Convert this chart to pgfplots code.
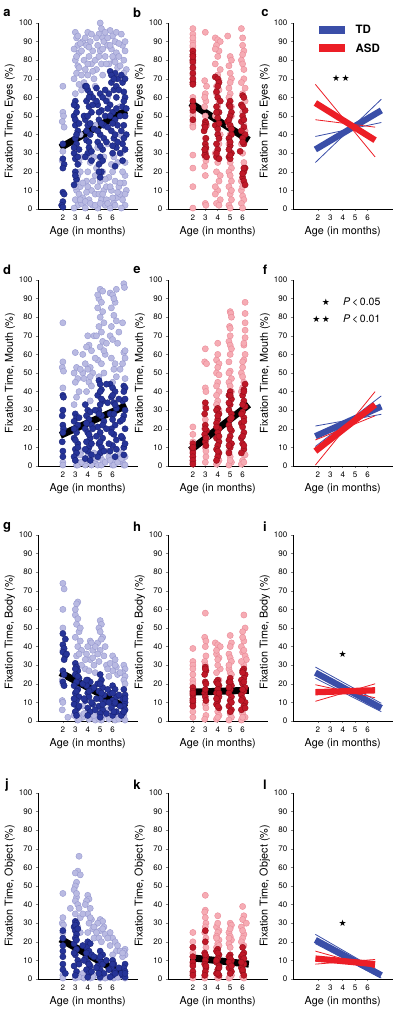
\documentclass[border=0pt]{standalone}
\usepackage{pgfplots}
\pgfplotsset{compat=1.18}
\usepackage{fontspec}
\setmainfont{TeX Gyre Heros}
\newfontfamily\symfont{DejaVu Sans}
\definecolor{tdLf}{RGB}{185,186,226}
\definecolor{tdLe}{RGB}{150,152,208}
\definecolor{tdDf}{RGB}{38,52,152}
\definecolor{tdDe}{RGB}{25,35,118}
\definecolor{asLf}{RGB}{246,172,180}
\definecolor{asLe}{RGB}{234,136,150}
\definecolor{asDf}{RGB}{192,24,40}
\definecolor{asDe}{RGB}{148,14,26}
\definecolor{tdB}{RGB}{58,78,168}
\definecolor{asR}{RGB}{236,30,38}
\pgfplotsset{
  panel/.style={
    scale only axis, width=99.5pt, height=186pt, anchor=south west,
    xmin=0, xmax=8, ymin=0, ymax=100,
    axis lines=left, axis line style={-, line width=0.6pt},
    xtick={2,3,4,5,6}, ytick={0,10,...,100},
    tick align=outside, major tick length=2.2pt, tick style={line width=0.6pt},
    tick label style={font=\fontsize{8}{9}\selectfont},
    label style={font=\fontsize{10.8}{12}\selectfont},
    xlabel={Age (in months)},
    xlabel style={yshift=1pt},
    ylabel style={yshift=-3pt},
    clip=false,
    /pgf/number format/assume math mode=true,
  },
  row1/.style={ylabel style={xshift=-5pt}},
  row3/.style={ylabel style={xshift=-4pt}},
  tdl/.style={only marks, mark=*, mark size=3.1pt, mark options={fill=tdLf, draw=tdLe, line width=0.4pt}},
  tdd/.style={only marks, mark=*, mark size=3.1pt, mark options={fill=tdDf, draw=tdDe, line width=0.4pt}},
  asl/.style={only marks, mark=*, mark size=3.1pt, mark options={fill=asLf, draw=asLe, line width=0.4pt}},
  asd/.style={only marks, mark=*, mark size=3.1pt, mark options={fill=asDf, draw=asDe, line width=0.4pt}},
  regl/.style={black, line width=7pt, no marks},
  tdthick/.style={tdB, line width=6.3pt, no marks},
  tdthin/.style={tdB, line width=0.8pt, no marks},
  asthick/.style={asR, line width=6.3pt, no marks},
  asthin/.style={asR, line width=0.8pt, no marks},
}
\newcommand{\lab}[3]{\node[font=\bfseries\fontsize{13}{14}\selectfont] at (#1pt,#2pt) {#3};}
\newcommand{\stars}[1]{{\symfont\fontsize{9}{9}\selectfont #1}}
\begin{document}
\begin{tikzpicture}
% ---------------- a
\begin{axis}[panel, row1, at={(38pt,-209pt)}, ylabel={Fixation Time, Eyes (\%)}]
\addplot[tdl] coordinates {(2.0,66)(2.0,52)(2.05,50)(1.95,47)(2.1,44)(2.0,31)(1.95,26)
(3.0,95)(3.1,92)(3.2,88)(2.9,86)(3.3,84)(3.0,80)(3.2,77)(3.1,73)(2.9,70)(3.3,67)(3.0,62)(3.1,10)(3.0,5)(3.2,2)(2.9,0.5)(3.3,8)(3.1,15)(3.4,20)(3.5,3)(3.6,90)(3.5,85)(3.7,80)(3.4,12)(3.6,6)
(4.0,95)(4.2,90)(3.9,88)(4.4,85)(4.1,82)(4.3,78)(3.8,75)(4.0,72)(4.5,70)(4.2,25)(4.0,20)(3.9,15)(4.3,10)(4.1,5)(4.4,2)(3.8,0.5)(4.6,18)(4.5,28)(4.6,8)(3.9,9)
(5.0,100)(5.1,97)(4.9,94)(5.2,92)(5.3,90)(4.8,88)(5.0,85)(5.4,82)(5.1,78)(4.7,75)(5.2,72)(5.0,15)(5.3,10)(4.9,8)(5.1,5)(5.4,2)(4.8,0.5)(5.2,20)(5.5,12)(5.0,25)(5.6,88)(5.5,5)
(5.8,96)(6.0,93)(6.2,90)(5.9,86)(6.3,84)(6.1,80)(5.7,78)(6.4,76)(6.0,20)(6.2,15)(5.9,10)(6.3,6)(6.1,3)(5.8,0.5)(6.5,12)(6.4,25)(6.5,82)(5.7,17)
(6.8,88)(7.0,85)(6.9,80)(7.1,75)(6.7,70)(7.0,18)(6.9,14)(7.1,10)(6.8,5)(7.0,2)(6.7,0.5)(7.0,25)(6.6,8)
(3.4,40)(4.6,45)(5.6,60)(6.6,55)(4.8,33)(3.6,28)(5.6,35)(6.6,40)(3.5,64)(4.6,66)
(3.1,82)(3.3,76)(3.5,72)(3.2,93)(3.4,89)(3.8,92)(4.1,87)(4.3,94)(4.6,80)(4.4,74)(4.7,92)(4.9,82)(5.2,86)(5.4,95)(5.6,92)(5.5,78)(5.8,88)(6.0,82)(6.2,79)(6.3,95)(6.5,89)(6.7,94)(6.9,73)(7.0,90)(6.6,77)(4.0,78)(3.7,68)
(3.0,12)(3.2,18)(3.4,5)(3.6,14)(3.8,4)(4.0,12)(4.2,3)(4.4,15)(4.6,2)(4.8,12)(5.0,3)(5.2,8)(5.4,16)(5.6,3)(5.8,12)(6.0,6)(6.2,2)(6.4,9)(6.6,14)(6.8,20)(7.0,8)(3.3,25)(4.1,28)(5.3,28)(6.1,28)(6.7,30)(5.9,24)(4.7,22)};
\addplot[tdd] coordinates {(2.0,35)(2.0,27)(2.1,24)(2.0,22)(2.0,9)(2.1,8)(2.0,4)(1.9,2)(2.0,1)
(3.0,58)(3.1,55)(2.9,50)(3.0,45)(3.2,42)(3.0,38)(3.1,35)(2.9,30)(3.0,27)(3.2,24)(3.0,20)(3.1,16)(2.9,13)(3.3,32)
(3.8,66)(4.0,64)(4.2,62)(3.9,58)(4.1,55)(4.3,52)(3.8,48)(4.0,45)(4.2,40)(3.9,37)(4.1,33)(4.0,30)(4.3,26)(3.7,50)(4.4,60)
(4.7,65)(5.0,62)(5.2,60)(4.8,56)(5.1,53)(4.9,48)(5.3,45)(5.0,40)(4.8,36)(5.2,32)(5.0,28)(4.9,24)(5.1,20)(5.0,17)(5.4,50)(5.5,58)
(5.8,74)(6.0,72)(6.2,73)(6.4,70)(5.9,68)(6.1,64)(6.3,60)(5.8,56)(6.0,52)(6.2,48)(6.4,45)(5.9,42)(6.1,38)(6.3,33)(6.0,30)(6.2,23)(5.7,62)
(6.7,72)(6.9,63)(7.0,60)(6.8,55)(7.0,50)(6.9,45)(7.1,40)(6.8,35)(7.0,32)(6.9,58)
(3.0,48)(3.1,40)(2.9,33)(3.2,28)(3.0,18)(3.1,52)(2.9,56)(3.3,46)(3.9,66)(4.1,60)(4.0,50)(4.2,46)(3.9,42)(4.1,36)(4.3,31)(3.8,28)(4.4,56)(4.5,43)(4.7,58)(4.9,52)(5.1,46)(4.8,42)(5.0,34)(5.2,26)(4.9,20)(5.3,38)(5.4,64)(5.6,54)(5.6,44)(5.5,36)(5.9,72)(6.1,70)(6.3,66)(5.8,50)(6.0,46)(6.2,40)(6.4,36)(6.0,34)(6.3,54)(6.5,64)(6.6,50)(6.7,42)(6.8,68)(7.0,70)(6.9,38)(7.1,54)(6.6,30)(6.8,26)};
\addplot[regl] coordinates {(1.8,33)(7.1,53)};
\end{axis}
% ---------------- b
\begin{axis}[panel, row1, at={(168pt,-209pt)}, ylabel={Fixation Time, Eyes (\%)}]
\addplot[asl] coordinates {(2.0,97)(2.0,94)(2.0,90)(2.0,87)(2.0,85)(2.0,82)(2.0,78)(2.0,75)(2.0,72)(2.0,68)(2.0,52)(2.0,50)(2.0,47)(2.0,45)(2.0,44)(2.0,29)(2.0,22)(2.0,12)(2.0,0.5)
(3.0,95)(2.95,69)(3.1,66)(3.0,62)(3.05,58)(2.95,55)(3.1,45)(3.0,28)(3.05,26)(2.95,23)(3.0,18)(3.0,3)(3.05,2)
(3.8,92)(4.0,91)(4.2,90)(3.9,88)(4.1,85)(4.0,82)(3.8,78)(4.2,75)(4.0,72)(3.9,66)(4.1,64)(3.8,50)(4.2,40)(3.8,30)(4.0,25)(3.9,20)(4.1,15)(4.0,10)(3.8,8)(4.2,5)(3.9,3)(4.1,2)
(4.8,93)(5.0,82)(5.1,80)(4.9,77)(5.0,73)(5.1,70)(4.9,65)(5.0,62)(5.1,55)(4.9,45)(5.0,25)(5.1,22)(4.9,20)(5.0,18)(5.1,15)(4.9,12)(5.0,8)(5.1,5)(4.9,2)(5.0,0.5)
(5.9,97)(6.0,92)(6.1,85)(6.0,83)(5.9,80)(6.0,78)(6.1,75)(6.2,65)(6.0,62)(6.2,58)(6.1,45)(5.9,35)(6.0,30)(5.9,10)(6.0,7)(6.1,5)(5.9,3)(6.0,0.5)
(2.0,92)(2.0,88)(2.0,80)(2.0,70)(2.0,60)(2.0,55)(3.0,50)(2.95,60)(3.05,32)(3.0,38)(3.9,62)(4.1,58)(4.0,55)(3.9,45)(4.1,35)(4.0,28)(4.2,18)(3.8,12)(4.1,69)(3.8,86)(5.0,68)(4.9,60)(5.1,50)(5.0,40)(4.9,35)(5.1,10)(5.0,30)(6.0,88)(6.1,70)(5.9,68)(6.0,52)(6.2,42)(6.1,25)(5.9,15)(6.0,12)};
\addplot[asd] coordinates {(2.0,85)(2.0,83)(2.0,80)(2.0,79)(2.0,73)(2.0,68)(2.0,67)(2.0,58)(2.0,53)(2.0,48)
(3.0,47)(3.05,46)(2.95,45)(2.9,42)(3.0,35)(3.05,33)(3.0,30)(2.95,29)(3.1,28)
(3.8,71)(4.0,70)(4.1,68)(3.9,63)(4.0,60)(4.2,58)(3.9,55)(4.1,52)(4.0,49)(3.8,45)(4.0,40)(4.1,38)(3.9,35)(4.0,32)(3.9,28)(4.1,27)
(5.0,58)(4.9,56)(5.1,52)(5.0,50)(4.8,47)(5.0,45)(5.1,40)(4.9,38)(5.0,34)(5.1,30)(4.9,28)(5.0,27)
(6.0,61)(6.1,60)(5.9,56)(6.2,53)(6.0,50)(5.9,47)(6.1,44)(6.2,40)(6.0,38)(6.1,35)(5.8,31)(6.2,22)(6.1,20)(6.0,17)(6.1,15)(6.2,13)
(2.0,82)(2.0,76)(2.0,70)(2.0,55)(3.0,44)(3.05,38)(2.95,32)(4.0,66)(3.9,52)(4.1,46)(4.0,43)(3.9,30)(5.0,55)(4.9,48)(5.1,43)(5.0,36)(4.9,32)(5.0,29)(6.0,55)(6.1,48)(5.9,42)(6.0,36)(6.1,22)(6.0,19)};
\addplot[regl] coordinates {(1.8,57)(6.5,37)};
\end{axis}
% ---------------- c
\begin{axis}[panel, row1, at={(293pt,-209pt)}, ylabel={Fixation Time, Eyes (\%)}]
\addplot[tdthin] coordinates {(1.8,25)(7.1,59)};
\addplot[tdthin] coordinates {(1.8,39)(7.1,46.5)};
\addplot[tdthick] coordinates {(1.8,32)(7.1,53)};
\addplot[asthin] coordinates {(1.8,67)(6.6,28)};
\addplot[asthin] coordinates {(1.8,48)(6.6,44)};
\addplot[asthick] coordinates {(1.8,57)(6.6,37)};
\addplot[tdB, line width=8pt, no marks] coordinates {(2.1,96.5)(4.2,96.5)};
\addplot[asR, line width=8pt, no marks] coordinates {(2.1,86.5)(4.2,86.5)};
\node[anchor=west, font=\bfseries\fontsize{11.5}{12}\selectfont] at (axis cs:4.75,96.5) {TD};
\node[anchor=west, font=\bfseries\fontsize{11.5}{12}\selectfont] at (axis cs:4.75,86.5) {ASD};
\node at (axis cs:3.85,70.5) {\stars{★\,★}};
\end{axis}
% ---------------- d
\begin{axis}[panel, at={(38pt,-466pt)}, ylabel={Fixation Time, Mouth (\%)}]
\addplot[tdl] coordinates {(2.0,77)(2.0,56)(1.95,53)(2.05,51)(2.0,42)(2.0,30)(2.0,2)(2.0,0.5)
(3.0,61)(3.1,53)(2.9,50)(3.2,47)(3.0,45)(3.3,40)(3.1,37)(2.9,33)(3.0,5)(3.2,2)(3.1,0.5)
(3.6,50)(4.0,70)(4.1,65)(3.9,64)(4.3,62)(3.8,55)(4.2,53)(4.0,52)(4.4,50)(3.7,47)(4.1,45)(4.3,43)(3.9,40)(4.2,35)(4.0,5)(4.4,2)(3.8,0.5)(4.5,70)
(5.0,95)(4.9,90)(5.1,88)(4.8,85)(5.2,83)(5.0,80)(5.3,77)(4.9,75)(5.1,72)(4.7,70)(5.2,67)(5.0,64)(5.4,60)(4.8,57)(5.1,55)(5.3,50)(4.9,48)(5.0,5)(5.2,3)(4.8,0.5)(5.5,66)
(5.8,93)(6.0,92)(6.2,88)(5.9,85)(6.1,81)(6.3,78)(5.8,70)(6.0,68)(6.4,66)(5.9,58)(6.2,55)(6.1,52)(6.3,48)(6.0,45)(5.7,5)(6.2,2)(6.0,0.5)
(6.9,98)(6.95,96)(6.8,77)(6.9,61)(7.0,58)(6.8,55)(7.0,47)(6.9,10)(7.0,5)(6.8,2)(6.9,0.5)(3.5,8)(4.6,3)(5.6,8)(6.5,4)
(3.2,0.5)(3.5,2)(3.9,3)(4.3,0.5)(4.7,4)(5.1,0.5)(5.4,2)(5.8,3)(6.1,0.5)(6.4,2)(6.7,4)(7.0,0.5)(3.4,6)(4.5,7)(6.6,7)(4.8,92)(5.2,94)(6.1,90)(6.3,95)(5.9,75)(6.5,72)(5.3,62)(4.6,58)(3.6,60)(4.2,48)(3.4,52)(6.6,52)(7.0,62)};
\addplot[tdd] coordinates {(2.0,38)(2.05,37)(2.0,30)(1.95,27)(2.0,22)(2.05,20)(2.0,18)(1.95,13)(2.0,8)(2.0,5)
(3.0,28)(3.1,26)(2.9,24)(3.2,22)(3.0,20)(3.1,18)(2.9,15)(3.2,12)(3.0,9)(3.1,7)(2.9,5)(3.0,3)
(3.8,33)(4.0,30)(4.2,29)(3.9,27)(4.1,25)(4.3,22)(3.8,20)(4.0,18)(4.2,15)(3.9,13)(4.1,10)(4.0,8)(4.3,6)(3.8,4)
(4.9,46)(5.0,44)(5.1,41)(4.8,38)(5.2,35)(5.0,33)(4.9,30)(5.1,27)(5.3,24)(4.8,21)(5.0,18)(5.2,15)(4.9,12)(5.1,10)(5.0,7)(4.8,5)
(5.8,44)(6.0,42)(6.2,40)(5.9,37)(6.1,34)(6.3,31)(5.8,28)(6.0,25)(6.2,22)(5.9,20)(6.1,17)(6.3,14)(6.0,11)(5.8,8)(6.2,5)
(6.9,43)(7.0,42)(6.9,40)(6.8,35)(7.0,30)(6.9,27)(7.0,20)(6.8,15)(6.9,10)
(3.0,14)(3.2,10)(2.9,20)(3.3,26)(3.9,23)(4.1,17)(4.3,12)(3.8,9)(4.2,3)(4.4,20)(4.6,30)(4.7,16)(5.0,40)(5.1,36)(4.9,28)(5.2,22)(5.0,13)(5.3,8)(5.5,44)(5.6,34)(5.5,20)(5.7,12)(6.0,38)(6.2,33)(6.1,28)(5.9,18)(6.3,9)(6.5,36)(6.6,24)(6.7,16)(7.0,36)(6.8,25)(7.0,12)(6.9,6)};
\addplot[regl] coordinates {(1.8,16.5)(7.1,32.5)};
\end{axis}
% ---------------- e
\begin{axis}[panel, at={(168pt,-466pt)}, ylabel={Fixation Time, Mouth (\%)}]
\addplot[asl] coordinates {(2.0,21)(2.0,17)(2.0,13)(2.0,10)(2.0,5)(2.0,2)
(3.0,63)(2.95,56)(3.1,55)(3.0,42)(3.05,40)(3.0,32)(2.95,20)(3.1,15)(3.0,10)(3.05,5)(3.0,2)
(4.0,66)(3.9,57)(4.1,55)(4.0,53)(3.9,50)(4.1,49)(4.0,45)(3.9,43)(4.1,40)(4.0,35)(3.9,33)(4.0,5)(4.1,3)(3.9,1)
(5.0,83)(5.05,82)(5.1,80)(4.95,75)(5.0,74)(4.9,67)(5.0,65)(5.1,63)(5.0,60)(4.9,56)(5.0,51)(5.1,47)(4.9,45)(5.0,43)(5.1,12)(4.9,8)(5.0,5)(5.1,2)(4.9,0.5)
(6.2,88)(6.2,77)(6.2,73)(6.2,69)(6.1,65)(6.2,60)(6.1,57)(6.0,56)(5.9,50)(6.0,48)(6.1,45)(5.9,40)(6.2,6)(6.0,3)(5.9,1)
(4.0,60)(3.9,38)(4.1,30)(5.0,70)(4.9,50)(5.1,40)(6.2,82)(6.1,66)(6.0,53)(6.0,42)(2.0,8)(3.0,25)(3.05,8)(4.0,2)(5.0,3)(6.1,2)};
\addplot[asd] coordinates {(2.0,12)(2.0,9)(2.0,7)(2.0,5)(2.0,3)(2.0,1)
(3.0,34)(3.05,31)(2.95,28)(3.0,22)(3.1,19)(2.95,17)(3.0,13)(3.05,11)
(4.0,31)(3.9,30)(4.1,28)(4.0,25)(3.9,23)(4.1,20)(4.0,18)(3.9,15)(4.1,13)(4.0,11)(3.9,9)(4.1,7)(4.0,5)(3.9,3)
(5.0,40)(4.9,38)(5.1,36)(5.0,33)(4.9,30)(5.1,28)(5.0,25)(4.9,22)(5.1,19)(5.0,16)(4.9,14)(5.1,12)(5.0,10)(4.9,7)
(6.2,44)(6.1,41)(6.0,38)(6.1,35)(6.2,32)(6.0,29)(6.1,26)(5.9,23)(6.0,21)(6.1,18)(5.9,15)(6.0,12)(6.1,9)(5.9,7)
(4.0,27)(3.9,21)(4.1,16)(4.0,8)(5.0,38)(4.9,34)(5.1,26)(5.0,20)(4.9,11)(6.1,40)(6.0,33)(5.9,28)(6.1,24)(6.0,16)(6.1,11)(3.0,20)(3.05,15)(2.0,10)};
\addplot[regl] coordinates {(1.8,8.5)(6.5,33)};
\end{axis}
% ---------------- f
\begin{axis}[panel, at={(293pt,-466pt)}, ylabel={Fixation Time, Mouth (\%)}]
\addplot[tdthin] coordinates {(1.8,21.5)(7.1,27.8)};
\addplot[tdthin] coordinates {(1.8,10.5)(7.1,37.7)};
\addplot[tdthick] coordinates {(1.8,16)(7.1,32)};
\addplot[asthin] coordinates {(1.8,0.5)(6.6,40)};
\addplot[asthin] coordinates {(1.8,14)(6.6,27)};
\addplot[asthick] coordinates {(1.8,8)(6.6,33)};
\node[anchor=east] at (axis cs:3.25,88) {\stars{★}};
\node[anchor=east] at (axis cs:3.25,79) {\stars{★\,★}};
\node[anchor=west, font=\fontsize{10.5}{11}\selectfont] at (axis cs:3.75,88) {\textit{P}\,<\,0.05};
\node[anchor=west, font=\fontsize{10.5}{11}\selectfont] at (axis cs:3.75,79) {\textit{P}\,<\,0.01};
\end{axis}
% ---------------- g
\begin{axis}[panel, row3, at={(38pt,-721pt)}, ylabel={Fixation Time, Body (\%)}]
\addplot[tdl] coordinates {(2.0,74)(2.1,71)(2.0,60)(2.0,50)(2.0,38)(1.95,22)(2.0,20)(1.95,11)(2.0,10)(1.95,6)(2.4,2)
(3.2,64)(3.1,63)(3.0,57)(3.2,55)(3.1,52)(3.3,48)(3.0,45)(3.4,43)(3.2,40)(3.5,38)(3.1,35)(3.0,5)(3.3,3)(3.6,2)(3.2,0.5)
(4.2,43)(4.3,42)(4.0,40)(4.4,38)(3.9,36)(4.2,33)(4.5,30)(3.8,28)(4.1,27)(4.0,5)(4.3,2)(4.6,0.5)(4.6,26)
(5.0,54)(5.1,52)(4.9,50)(5.0,48)(5.2,45)(4.8,42)(5.4,40)(5.0,38)(5.3,35)(4.9,32)(5.5,30)(5.0,5)(5.3,3)(5.1,0.5)
(6.0,35)(6.2,33)(5.8,31)(6.3,29)(6.0,27)(6.4,25)(5.9,3)(6.2,0.5)(5.7,24)
(6.9,30)(7.0,28)(6.8,26)(7.0,24)(6.9,22)(7.0,20)(6.8,2)(7.0,0.5)(3.6,8)(4.7,4)(5.6,6)(6.5,2)
(3.3,1)(3.7,4)(4.1,1)(4.5,3)(4.9,1)(5.3,4)(5.7,1)(6.1,4)(6.5,1)(6.9,3)(2.9,3)(3.5,30)(3.8,33)(4.4,34)(4.8,36)(5.1,44)(5.6,28)(6.2,30)(6.6,26)(3.3,36)(4.6,40)(3.0,60)(3.4,50)};
\addplot[tdd] coordinates {(2.0,47)(2.0,41)(2.1,39)(2.0,37)(2.2,35)(2.1,33)(2.0,27)(2.1,25)(2.0,21)(2.1,19)
(3.0,31)(3.1,29)(3.2,27)(3.0,25)(3.3,23)(3.1,21)(2.9,19)(3.2,17)(3.0,15)(3.3,13)(3.1,11)(2.9,9)(3.2,7)(3.0,5)
(4.0,22)(4.2,21)(3.9,19)(4.3,17)(4.0,15)(4.1,13)(3.8,11)(4.4,9)(4.0,7)(4.2,5)
(5.0,25)(5.1,22)(4.8,20)(5.2,18)(4.9,16)(5.3,14)(5.0,12)(5.4,10)(4.9,8)(5.2,6)(5.0,4)
(6.0,19)(6.2,17)(5.8,15)(6.3,13)(6.0,11)(6.1,9)(5.9,7)(6.3,5)(6.0,3)
(6.9,17)(7.0,14)(6.8,12)(7.0,10)(6.9,8)(7.0,6)(6.8,4)
(3.0,28)(3.2,24)(3.1,16)(2.9,12)(3.3,8)(3.1,3)(3.6,20)(3.7,12)(3.9,22)(4.1,16)(4.3,10)(4.0,3)(4.5,18)(4.7,12)(4.6,6)(5.0,20)(5.1,15)(5.2,9)(5.0,2)(5.6,17)(5.7,10)(5.5,4)(6.0,15)(6.2,10)(6.1,5)(6.5,14)(6.6,8)(6.7,3)(7.0,12)(6.9,5)(2.2,44)(2.3,36)};
\addplot[regl] coordinates {(1.8,26)(7.1,7)};
\end{axis}
% ---------------- h
\begin{axis}[panel, row3, at={(168pt,-721pt)}, ylabel={Fixation Time, Body (\%)}]
\addplot[asl] coordinates {(2.0,39)(2.0,32)(2.0,30)(2.0,28)(2.0,22)(2.0,8)(2.0,5)(2.0,2)
(3.0,58)(2.95,45)(3.05,43)(3.0,40)(3.05,35)(2.95,32)(3.0,9)(3.05,3)(2.95,1)
(3.8,42)(4.0,41)(4.2,40)(3.9,36)(4.1,34)(4.0,33)(4.2,28)(3.9,26)(4.0,5)(4.1,3)(3.9,1)
(5.0,46)(5.1,42)(4.9,36)(5.0,34)(5.1,32)(4.9,28)(5.0,26)(5.0,4)(5.1,2)(4.9,0.5)
(6.1,57)(6.2,50)(6.0,48)(6.1,43)(5.9,40)(6.0,37)(6.2,35)(6.3,33)(6.1,30)(6.0,4)(6.2,2)(5.9,0.5)
(2.0,20)(2.0,25)(3.0,30)(3.05,7)(4.0,30)(3.9,38)(4.1,22)(4.0,2)(5.0,40)(4.9,30)(5.1,25)(6.0,45)(6.1,38)(5.9,32)(6.0,2)};
\addplot[asd] coordinates {(2.0,18)(2.0,16)(2.0,14)(2.0,12)(2.0,10)(2.0,8)
(3.0,29)(3.05,27)(2.95,25)(3.0,21)(3.05,20)(2.95,15)(3.0,13)(3.05,11)
(4.0,22)(3.9,21)(4.1,19)(4.0,17)(3.9,15)(4.1,13)(4.0,11)(3.9,9)(4.1,7)
(5.0,23)(4.9,21)(5.1,19)(5.0,17)(4.9,15)(5.1,13)(5.0,11)(4.9,8)(5.1,6)(5.0,5)
(6.1,28)(6.0,27)(6.2,25)(6.1,23)(5.9,22)(6.0,20)(6.2,18)(6.1,16)(5.9,14)(6.0,12)(6.2,10)(6.1,8)(5.9,6)
(2.0,15)(2.0,11)(3.0,28)(3.0,17)(4.0,20)(4.1,15)(3.9,12)(4.0,8)(5.0,21)(4.9,18)(5.1,10)(6.0,26)(6.1,21)(6.0,17)(5.9,11)(6.2,7)};
\addplot[regl] coordinates {(1.8,15.5)(6.5,16.5)};
\end{axis}
% ---------------- i
\begin{axis}[panel, row3, at={(293pt,-721pt)}, ylabel={Fixation Time, Body (\%)}]
\addplot[tdthin] coordinates {(1.8,29)(7.1,9.5)};
\addplot[tdthin] coordinates {(1.8,23)(7.1,5)};
\addplot[tdthick] coordinates {(1.8,26)(7.1,7)};
\addplot[asthin] coordinates {(1.8,10.6)(6.6,20)};
\addplot[asthin] coordinates {(1.8,19.5)(6.6,12.5)};
\addplot[asthick] coordinates {(1.8,15.5)(6.6,16.5)};
\node at (axis cs:4.0,36) {\stars{★}};
\end{axis}
% ---------------- j
\begin{axis}[panel, at={(38pt,-979pt)}, ylabel={Fixation Time, Object (\%)}]
\addplot[tdl] coordinates {(2.0,46)(2.0,33)(1.95,30)(2.05,29)(2.0,25)(2.0,2)(2.0,0.5)(2.6,38)
(3.3,66)(3.2,58)(3.0,57)(3.1,52)(3.0,50)(2.9,48)(3.1,44)(3.0,42)(3.2,40)(3.3,38)(3.0,35)(3.4,33)(3.1,2)(3.0,0.5)
(4.0,45)(4.1,43)(3.9,42)(4.2,38)(4.0,35)(4.3,32)(4.1,30)(4.4,27)(4.0,25)(4.5,22)(4.2,0.5)
(5.0,32)(5.2,31)(4.8,30)(5.3,28)(5.0,26)(5.4,24)(4.9,22)(5.1,20)(5.0,0.5)
(6.0,22)(6.2,20)(5.8,18)(6.3,15)(6.0,13)(6.1,0.5)
(7.0,16)(6.9,15)(7.0,13)(6.8,12)(7.0,0.5)(3.6,3)(4.6,2)(5.6,1)(6.5,1)
(3.0,30)(3.2,28)(3.4,25)(3.6,35)(3.8,40)(4.2,33)(4.5,28)(4.7,25)(5.2,27)(5.6,22)(5.8,25)(6.4,18)(6.6,15)(6.8,14)(3.3,1)(3.7,0.5)(4.4,1)(5.4,0.5)(6.4,1)(3.1,46)(3.4,56)};
\addplot[tdd] coordinates {(2.0,26)(2.0,22)(2.0,18)(2.0,15)(2.0,12)(2.0,8)(2.0,5)(2.2,3)
(3.0,31)(3.1,30)(2.9,28)(3.0,26)(3.1,24)(3.0,22)(2.9,19)(3.1,16)(3.0,13)(3.2,10)(2.9,7)(3.1,4)(3.0,2)
(4.0,20)(4.2,19)(3.9,17)(4.1,15)(4.3,13)(3.8,11)(4.0,9)(4.2,7)(3.9,5)(4.1,3)(4.0,1)
(5.0,15)(5.2,13)(4.9,11)(5.1,9)(4.8,7)(5.0,5)(5.3,3)(5.0,1)
(6.0,10)(6.1,8)(5.9,6)(6.2,4)(6.0,2)(5.8,1)
(7.0,8)(6.9,6)(7.0,4)(6.8,2)(7.0,1)
(3.0,29)(3.2,27)(3.1,21)(2.9,14)(3.3,8)(3.6,18)(3.7,10)(3.9,14)(4.1,8)(4.3,4)(4.5,12)(4.7,6)(5.0,12)(5.2,8)(4.9,3)(5.5,10)(5.7,5)(6.0,8)(6.2,3)(6.5,6)(6.7,3)(7.0,3)};
\addplot[regl] coordinates {(1.8,21.5)(7.1,1.5)};
\end{axis}
% ---------------- k
\begin{axis}[panel, at={(168pt,-979pt)}, ylabel={Fixation Time, Object (\%)}]
\addplot[asl] coordinates {(2.0,25)(2.0,20)(2.0,17)(2.0,12)(2.0,8)(2.0,3)(2.0,0.5)
(3.0,45)(3.0,37)(2.95,36)(3.05,30)(3.0,28)(2.95,25)(3.05,22)(3.0,2)(2.95,0.5)
(4.0,34)(3.9,28)(4.1,26)(4.0,25)(3.9,23)(4.1,21)(4.0,19)(3.9,17)(4.1,1)(4.0,0.5)
(5.0,30)(5.1,29)(4.9,25)(5.0,23)(5.1,21)(4.9,19)(5.0,17)(5.1,2)(4.9,0.5)
(6.0,39)(6.1,34)(6.0,32)(5.9,28)(6.1,24)(6.0,22)(5.9,20)(6.3,30)(6.0,1)(6.1,0.5)
(3.0,33)(3.05,17)(4.0,30)(3.9,22)(4.1,18)(5.0,27)(4.9,22)(6.0,26)(6.1,18)(2.0,14)(4.0,2)(5.0,1)};
\addplot[asd] coordinates {(2.0,17)(2.0,12)(2.0,9)(2.0,7)(2.0,4)(2.0,2)
(3.0,26)(3.0,20)(2.95,14)(3.05,12)(3.0,10)(2.95,8)(3.05,6)(3.0,4)(2.95,2)
(4.0,16)(3.9,15)(4.1,13)(4.0,11)(3.9,9)(4.1,7)(4.0,5)(3.9,3)(4.1,2)
(5.0,13)(4.9,12)(5.1,10)(5.0,8)(4.9,6)(5.1,4)(5.0,3)
(6.0,17)(6.1,14)(5.9,12)(6.0,10)(6.1,8)(5.9,6)(6.0,4)(6.1,2)
(3.0,13)(3.05,7)(4.0,14)(3.9,10)(4.1,6)(4.0,3)(5.0,11)(4.9,9)(5.1,7)(6.0,13)(6.1,11)(5.9,9)(6.0,5)};
\addplot[regl] coordinates {(1.8,11.5)(6.5,8)};
\end{axis}
% ---------------- l
\begin{axis}[panel, at={(293pt,-979pt)}, ylabel={Fixation Time, Object (\%)}]
\addplot[tdthin] coordinates {(1.8,24)(7.1,3.5)};
\addplot[tdthin] coordinates {(1.8,19)(7.1,0.5)};
\addplot[tdthick] coordinates {(1.8,21)(7.1,2)};
\addplot[asthin] coordinates {(1.8,15)(6.6,6)};
\addplot[asthin] coordinates {(1.8,8)(6.6,10.5)};
\addplot[asthick] coordinates {(1.8,11)(6.6,8)};
\node at (axis cs:4.0,30) {\stars{★}};
\end{axis}
% panel letters
\lab{7}{-13}{a}\lab{137}{-13}{b}\lab{265}{-13}{c}
\lab{7}{-270}{d}\lab{137}{-270}{e}\lab{265}{-270}{f}
\lab{7}{-527}{g}\lab{137}{-527}{h}\lab{265}{-527}{i}
\lab{7}{-785}{j}\lab{137}{-785}{k}\lab{265}{-785}{l}
\pgfresetboundingbox
\path[use as bounding box] (0,0) rectangle (400pt,-1009pt);
\end{tikzpicture}
\end{document}
